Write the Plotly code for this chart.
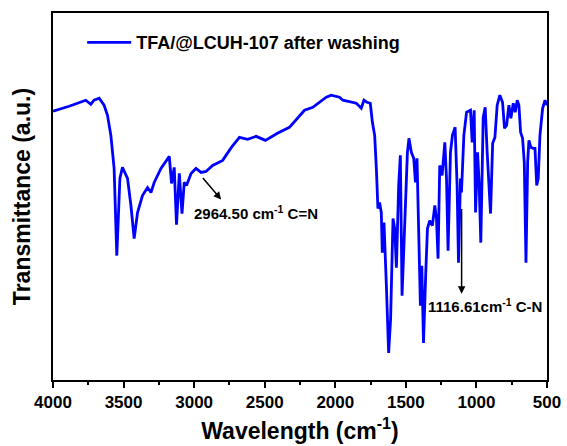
import plotly.graph_objects as go

# Wavenumber (cm-1) and transmittance (arbitrary units)
wavenumber = [4000, 3886, 3768, 3732, 3709, 3673, 3638, 3614, 3590, 3567,
              3548, 3526, 3508, 3472, 3448, 3425, 3401, 3366, 3330, 3306,
              3283, 3235, 3176, 3160, 3141, 3125, 3105, 3086, 3070, 3054,
              3022, 2987, 2951, 2916, 2869, 2798, 2736, 2679, 2621, 2561,
              2495, 2410, 2325, 2218, 2159, 2064, 2029, 1970, 1946, 1851,
              1816, 1797, 1776, 1752, 1737, 1721, 1709, 1698, 1686, 1674,
              1667, 1655, 1638, 1622, 1608, 1591, 1579, 1567, 1551, 1539,
              1527, 1508, 1489, 1478, 1461, 1444, 1432, 1421, 1407, 1397,
              1387, 1375, 1359, 1347, 1331, 1312, 1295, 1283, 1272, 1260,
              1243, 1224, 1212, 1201, 1184, 1170, 1151, 1137, 1127, 1113,
              1106, 1089, 1070, 1042, 1030, 1016, 1006, 992, 981, 969,
              952, 938, 924, 912, 900, 885, 869, 853, 834, 815,
              801, 786, 770, 756, 739, 725, 711, 699, 687, 673,
              661, 649, 637, 628, 614, 597, 585, 573, 562, 550,
              531, 514, 498]
transmittance = [268, 273, 279, 275, 279, 281, 274, 264, 244, 211,
                 124, 201, 212, 201, 174, 141, 167, 184, 192, 187,
                 197, 211, 223, 196, 212, 155, 206, 166, 197, 194,
                 206, 211, 207, 208, 214, 219, 232, 242, 240, 243,
                 239, 246, 252, 269, 272, 282, 284, 282, 279, 276,
                 271, 279, 277, 276, 257, 244, 211, 171, 177, 167,
                 127, 157, 94, 27, 61, 161, 151, 112, 194, 224,
                 84, 167, 227, 241, 227, 221, 197, 221, 137, 74,
                 114, 37, 107, 151, 159, 154, 174, 161, 121, 214,
                 204, 237, 201, 129, 227, 244, 252, 194, 117, 201,
                 187, 244, 267, 269, 237, 269, 167, 227, 197, 137,
                 262, 272, 227, 201, 166, 236, 242, 274, 284, 277,
                 251, 254, 274, 261, 276, 267, 279, 274, 247, 241,
                 217, 117, 217, 239, 232, 231, 231, 194, 201, 244,
                 271, 279, 274]

series_name = "TFA/@LCUH-107 after washing"
x_ticks = [4000, 3500, 3000, 2500, 2000, 1500, 1000, 500]

FONT = "Arial, Liberation Sans, sans-serif"

fig = go.Figure()
fig.add_trace(go.Scatter(
    x=wavenumber, y=transmittance, mode="lines", name=series_name,
    line=dict(color="#0000FF", width=2.8),
))

fig.update_layout(
    width=567, height=446,
    margin=dict(l=53, r=20, t=13, b=66, autoexpand=False),
    paper_bgcolor="white", plot_bgcolor="white",
    showlegend=True,
    legend=dict(
        x=0.059, y=0.919, xanchor="left", yanchor="middle",
        bgcolor="rgba(0,0,0,0)",
        font=dict(family=FONT, size=18, color="black", weight="bold"),
        itemwidth=44,
    ),
    xaxis=dict(
        range=[4000, 500], autorange=False,
        tickvals=x_ticks, ticktext=[str(v) for v in x_ticks],
        ticks="outside", ticklen=6, tickwidth=1.5, tickcolor="black",
        minor=dict(dtick=250, ticks="outside", ticklen=3, tickwidth=1.5, tickcolor="black"),
        showline=True, linecolor="black", linewidth=2, mirror=True,
        showgrid=False, zeroline=False,
        tickfont=dict(family=FONT, size=17, color="black", weight="bold"),
        title=dict(text="Wavelength (cm<sup>-1</sup>)", standoff=11,
                   font=dict(family=FONT, size=23, color="black", weight="bold")),
        automargin=False,
    ),
    yaxis=dict(
        range=[0, 366], autorange=False,
        showticklabels=False, ticks="",
        showline=True, linecolor="black", linewidth=2, mirror=True,
        showgrid=False, zeroline=False,
        title=dict(text="Transmittance (a.u.)", standoff=14,
                   font=dict(family=FONT, size=23, color="black", weight="bold")),
        automargin=False,
    ),
)

# C=N annotation
fig.add_annotation(x=2809, y=180, ax=2947, ay=203, axref="x", ayref="y",
                   xref="x", yref="y", text="", showarrow=True,
                   arrowhead=2, arrowsize=1, arrowwidth=1.5, arrowcolor="black")
fig.add_annotation(x=3015, y=167, xref="x", yref="y", xanchor="left", yanchor="middle",
                   text="2964.50 cm<sup>-1</sup> C=N", showarrow=False,
                   font=dict(family=FONT, size=15, color="black", weight="bold"))
# C-N annotation
fig.add_annotation(x=1105, y=86, ax=1105, ay=172, axref="x", ayref="y",
                   xref="x", yref="y", text="", showarrow=True,
                   arrowhead=2, arrowsize=1, arrowwidth=1.5, arrowcolor="black")
fig.add_annotation(x=1354, y=74, xref="x", yref="y", xanchor="left", yanchor="middle",
                   text="1116.61cm<sup>-1</sup> C-N", showarrow=False,
                   font=dict(family=FONT, size=15, color="black", weight="bold"))

fig.write_html("out.html")
